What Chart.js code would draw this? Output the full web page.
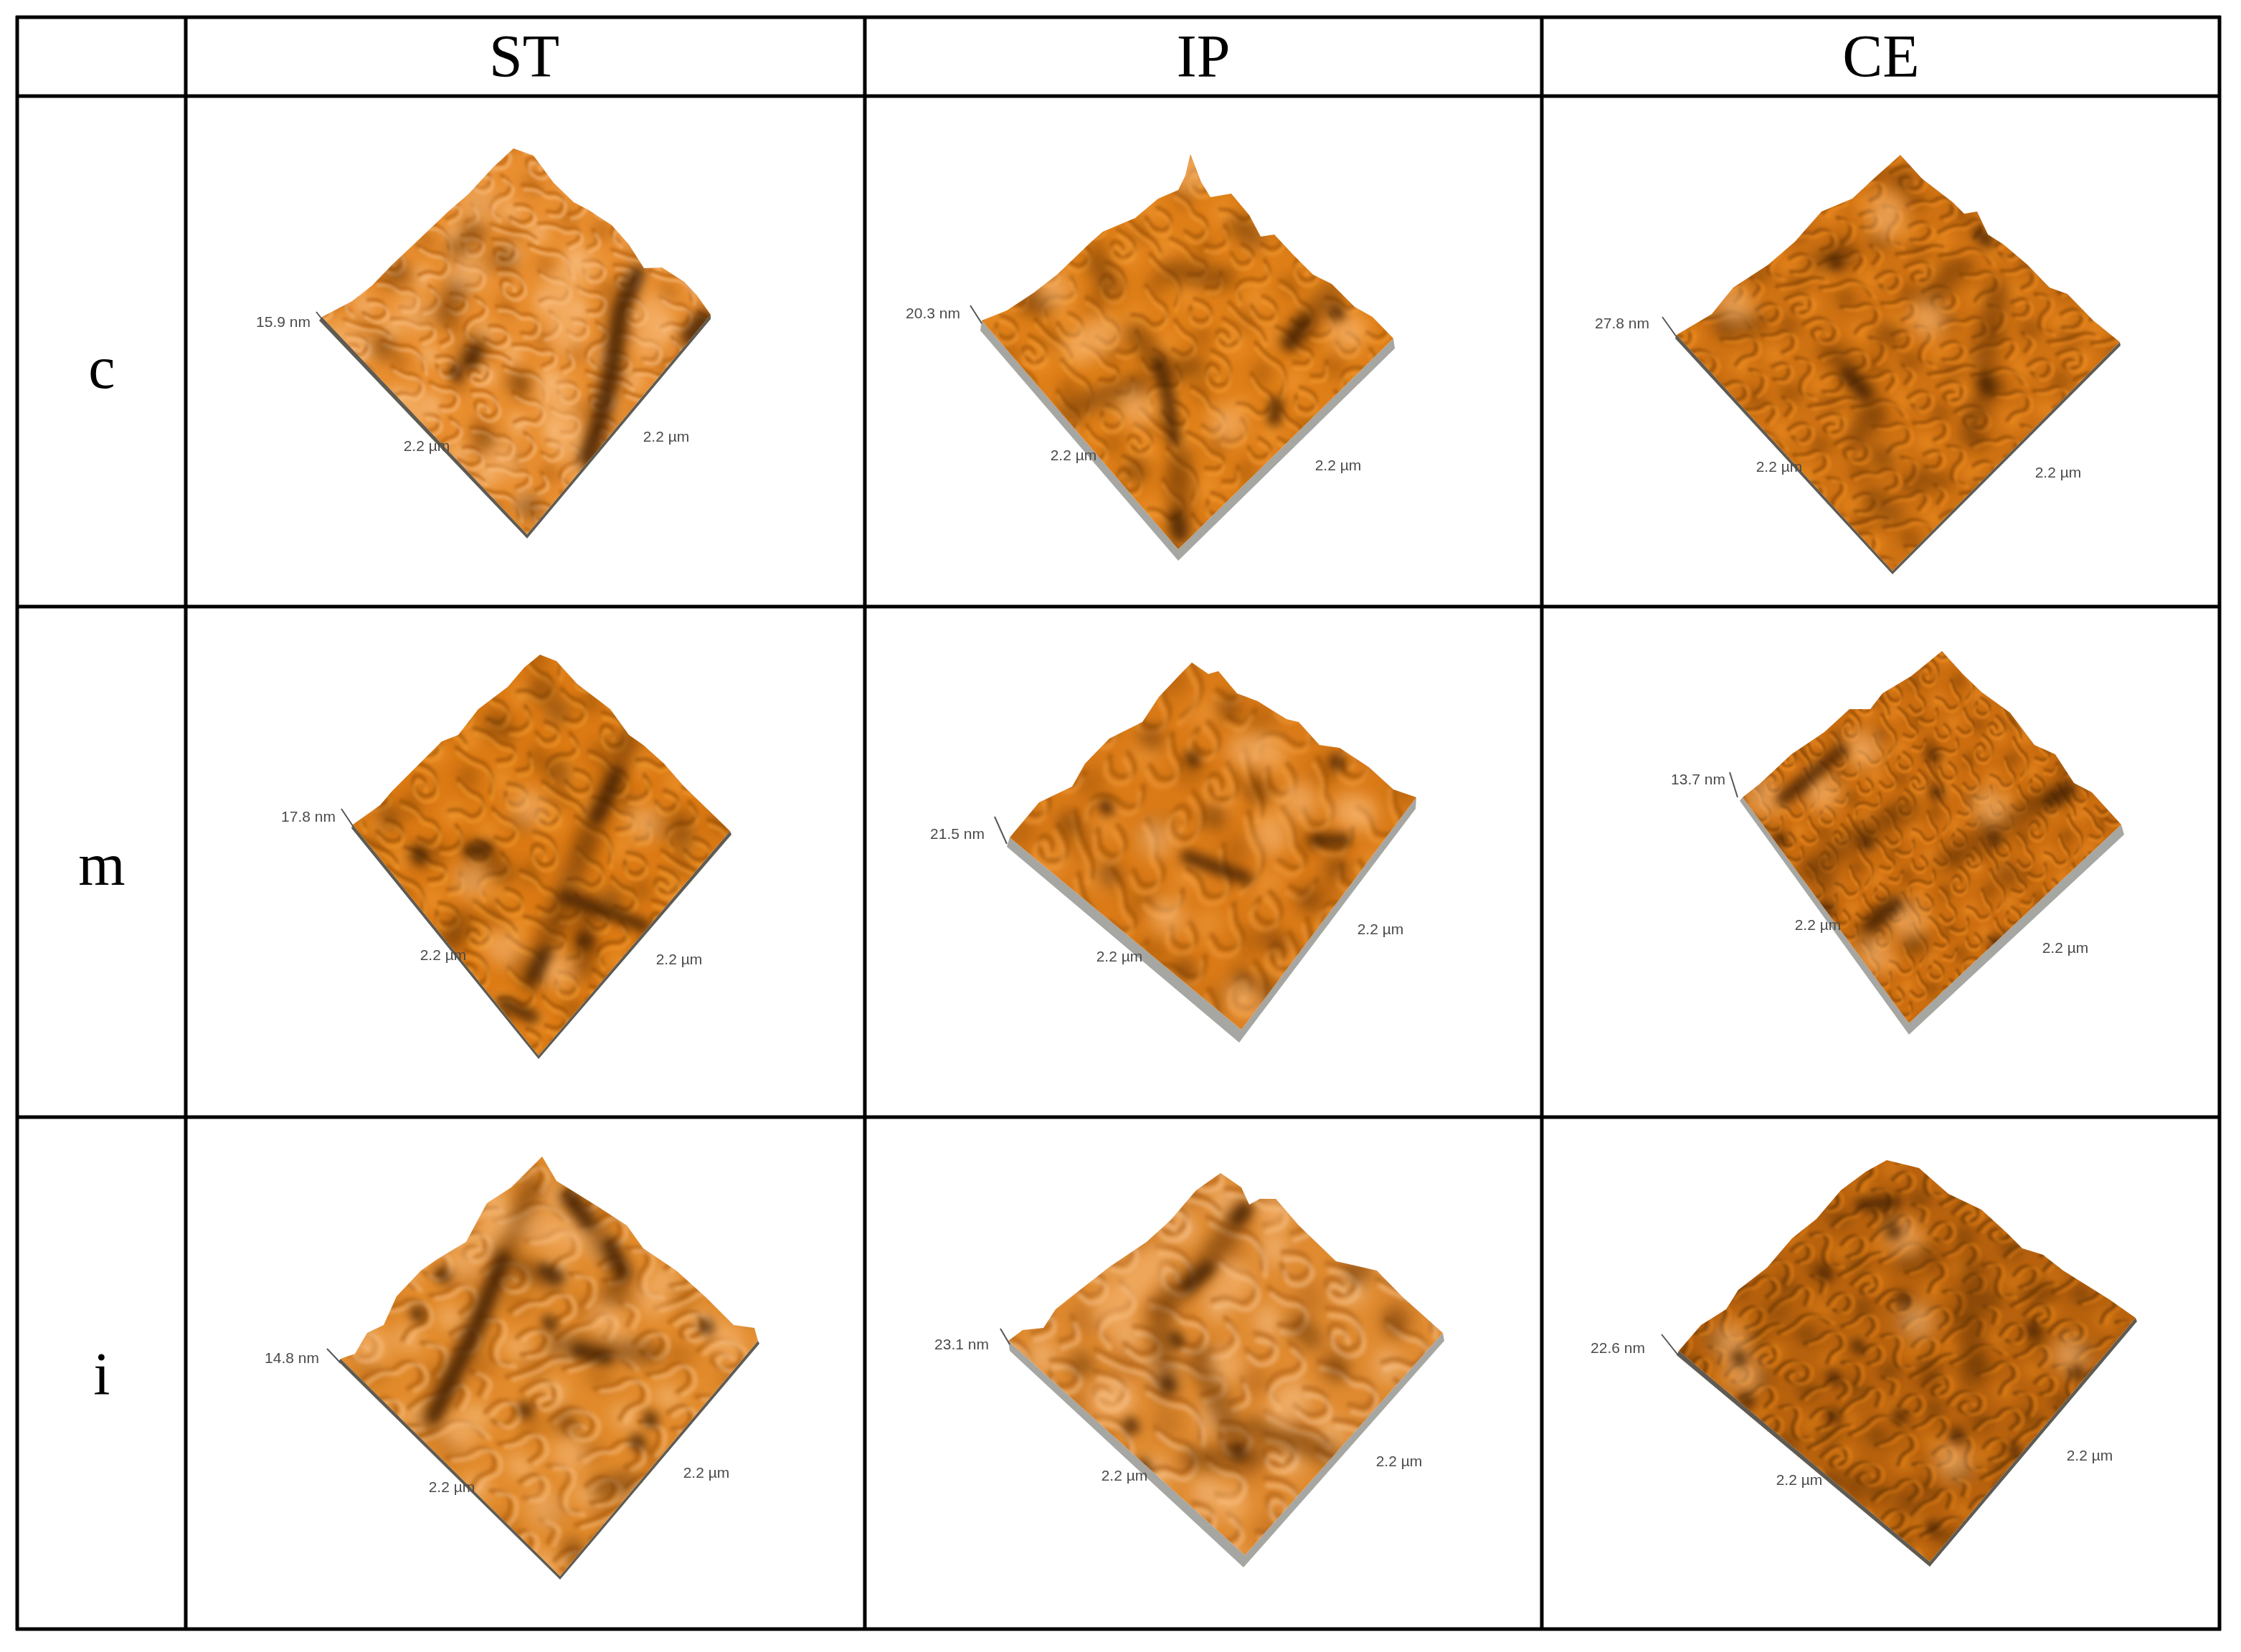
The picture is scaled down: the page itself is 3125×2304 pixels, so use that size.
<!DOCTYPE html>
<html><head><meta charset="utf-8">
<style>html,body{margin:0;padding:0;background:#fff}canvas{display:block}</style>
<script src="https://cdn.jsdelivr.net/npm/chart.js@4"></script>
</head><body><canvas id="c" width="3125" height="2304"></canvas>
<script>
// ---- table content ----
const columns = ['ST','IP','CE'];
const columnCentres = [731,1678,2623];
const rows = ['c','m','i'];
const rowBaselines = [541,1234,1945];
const rowCentre = 142;
const headerBaseline = 107;
const tableV = [24,259,1206,2150,3095];
const tableH = [24,134,846,1558,2272];

// ---- height-scale annotations (row by row) ----
const heightLabels = ['15.9 nm','20.3 nm','27.8 nm','17.8 nm','21.5 nm','13.7 nm','14.8 nm','23.1 nm','22.6 nm'];
const heightAnchors = [[395,450],[1301,438],[2262,452],[430,1140],[1335,1164],[2368,1088],[407,1895],[1341,1876],[2256,1881]];
const sideLabel = '2.2 µm';
const sideAnchorsA = [[595,623],[1497,636],[2481,652],[618,1333],[1561,1335],[2535,1291],[630,2075],[1568,2059],[2509,2065]];
const sideAnchorsB = [[929,610],[1866,650],[2870,660],[947,1339],[1925,1297],[2880,1323],[985,2055],[1951,2039],[2914,2031]];

// ---- surface outlines, one per scan ----
const outline_c_ST = [716,207,744,217,772,255,800,282,821,293,853,314,877,341,898,374,923,373,954,393,972,412,991,439,735,745,449,442,491,420,519,398,547,369,582,336,625,295,653,271,688,233];
const outline_c_IP = [1660,215,1675,254,1688,275,1717,270,1742,300,1758,330,1777,327,1803,355,1831,383,1857,396,1889,428,1914,442,1943,472,1643,766,1369,447,1404,433,1442,408,1474,383,1522,337,1538,323,1583,304,1615,277,1643,265,1653,245];
const outline_c_CE = [2650,216,2680,249,2723,282,2739,298,2757,295,2772,327,2794,341,2827,369,2858,401,2883,410,2919,447,2956,477,2639,796,2338,467,2387,438,2417,401,2466,369,2503,337,2540,295,2583,277,2613,249];
const outline_m_ST = [753,913,776,922,805,954,851,989,877,1025,897,1039,926,1065,954,1097,986,1128,1018,1159,751,1472,492,1150,530,1123,547,1103,616,1034,639,1025,667,989,708,958,731,931];
const outline_m_IP = [1662,924,1685,940,1699,936,1725,967,1754,978,1794,1003,1811,1007,1840,1039,1868,1043,1909,1070,1943,1101,1975,1112,1731,1436,1408,1168,1449,1119,1495,1097,1513,1065,1547,1030,1593,1007,1616,972,1650,936];
const outline_m_CE = [2708,908,2737,940,2763,965,2803,994,2837,1039,2866,1052,2892,1092,2917,1105,2958,1150,2662,1427,2430,1112,2453,1094,2498,1052,2544,1021,2579,989,2608,989,2625,967,2665,943];
const outline_i_ST = [756,1613,776,1647,805,1665,834,1683,874,1709,897,1741,943,1772,983,1808,1023,1848,1052,1852,1057,1870,781,2198,475,1895,495,1888,512,1859,535,1848,553,1808,587,1772,610,1756,650,1732,679,1678,713,1656];
const outline_i_IP = [1702,1636,1731,1656,1742,1680,1757,1672,1779,1672,1811,1709,1863,1759,1920,1772,1955,1808,2012,1859,1736,2169,1406,1870,1426,1855,1455,1852,1472,1826,1501,1803,1547,1767,1599,1732,1633,1701,1668,1660];
const outline_i_CE = [2631,1618,2676,1629,2717,1665,2763,1687,2797,1718,2820,1741,2849,1750,2877,1772,2941,1812,2978,1838,2691,2178,2341,1884,2372,1848,2407,1826,2424,1799,2464,1768,2499,1727,2533,1700,2567,1660,2602,1634];

// ---- side walls: left, bottom and right corners of the base, plus upper corners ----
const walls = [
 [449,442,735,745,991,439, 991,445,735,751,445,447],
 [1369,447,1643,766,1943,472, 1945,486,1643,782,1367,461],
 [2338,467,2639,796,2956,477, 2957,482,2639,801,2336,472],
 [492,1150,751,1472,1018,1159, 1020,1164,751,1477,490,1155],
 [1408,1168,1731,1436,1975,1112, 1974,1128,1728,1454,1404,1181],
 [2430,1112,2662,1427,2958,1150, 2962,1164,2662,1443,2426,1117],
 [475,1895,781,2198,1057,1870, 1059,1874,781,2203,472,1899],
 [1406,1870,1736,2169,2012,1859, 2014,1870,1734,2186,1408,1884],
 [2341,1884,2691,2178,2978,1838, 2980,1843,2691,2185,2338,1890]
];
// ---- little z-axis ticks ----
const zTicks = [[441,435,453,450],[1353,426,1369,451],[2318,442,2338,470],[476,1128,492,1152],[1387,1139,1404,1177],[2412,1077,2423,1112],[456,1881,475,1901],[1395,1853,1408,1875],[2317,1861,2340,1890]];

// ---- dark grooves and pits (deep), broad shading (shade), bright patches (glow) ----
const deep_c_ST = [[890,380,866,430,853,520,835,591,818,640],[635,518],[663,490,655,505],[962,470,982,444]];
const shade_c_ST = [[877,396,863,434,853,520,835,591,818,640],[982,444,961,472],[660,320],[639,347],[702,358],[554,379],[533,482],[723,531],[674,612],[737,705],[640,400,620,440],[650,500,665,480]];
const glow_c_ST = [[575,434],[807,369],[667,282],[772,542,793,623],[912,434,905,477],[477,472],[575,569],[653,374],[700,640],[790,470,780,400]];

const deep_c_IP = [[1615,506,1627,543,1637,612],[1777,585,1780,562],[1799,479,1819,447],[1863,433],[1640,720,1645,745]];
const shade_c_IP = [[1583,465,1615,506],[1512,562,1583,539],[1532,369,1548,401],[1455,424,1436,424],[1646,635,1646,745],[1634,378,1697,387],[1729,314,1748,332],[1799,474,1857,410],[1583,653],[1493,571],[1625,520,1665,510]];
const glow_c_IP = [[1538,465,1506,483],[1468,401],[1876,461],[1583,566],[1710,589],[1660,225,1660,245]];

const deep_c_CE = [[2601,548,2576,520],[2558,362],[2772,337,2760,325],[2772,543,2768,530]];
const shade_c_CE = [[2785,405,2766,497,2772,543],[2748,607,2760,566],[2564,497,2613,571,2589,612],[2613,695,2638,718],[2625,635],[2680,667],[2576,355,2540,364],[2693,415,2723,378],[2405,447,2448,451],[2632,465],[2650,249]];
const glow_c_CE = [[2687,442],[2417,424],[2631,291,2631,310]];

const deep_m_ST = [[860,1079,845,1114,831,1141],[656,1186,679,1184],[788,1251,868,1280,897,1291],[742,1364,759,1329],[814,1309],[702,1400,742,1418],[584,1190]];
const shade_m_ST = [[877,1030,811,1190,788,1248,742,1369],[819,1262,811,1351],[584,1190],[753,958],[776,989],[776,1074],[690,1007],[662,1186,702,1217],[644,1284,633,1306],[949,1146,952,1172],[541,1137],[851,1253]];
const glow_m_ST = [[656,1226],[897,1146],[736,1123],[776,1351],[702,1320]];

const deep_m_IP = [[1656,1195,1736,1224],[1834,1172,1874,1172],[1662,1056],[1863,1061],[1541,1123]];
const shade_m_IP = [[1691,1137],[1754,1101],[1547,1217],[1777,1311],[1650,1351],[1731,1364],[1765,1378],[1490,1146],[1863,1208],[1823,1253],[1713,985],[1604,1025]];
const glow_m_IP = [[1880,1130,1895,1135],[1736,1047,1765,1047],[1771,1164],[1627,1275],[1811,1114],[1731,1391],[1610,1168]];

const deep_m_CE = [[2567,1047,2487,1114],[2608,1289,2642,1262],[2780,1168],[2694,1052],[2699,1103],[2602,1172],[2783,1313],[2883,1101,2857,1117],[2547,1266],[2481,1168]];
const shade_m_CE = [[2886,1097,2786,1155,2717,1199],[2659,1128,2521,1213],[2642,1262,2602,1302],[2797,1217],[2671,1311],[2544,1226]];
const glow_m_CE = [[2596,1043],[2774,1123],[2659,1280],[2539,1101],[2613,1329],[2458,1110]];

const deep_i_ST = [[799,1674],[868,1776,851,1736],[794,1669,820,1705],[759,1772,776,1781],[731,1964],[805,1884,845,1893],[765,1843],[983,1848],[616,1776],[581,1830],[888,2009],[906,1977],[702,1754,667,1843,627,1928,605,1975]];
const shade_i_ST = [[702,1754,667,1843,627,1928,599,1984],[742,1656,702,1750],[702,1759,771,1785],[794,1669,868,1776,851,1812],[776,1875,908,1888],[840,2076,874,2067],[799,2160],[788,1982]];
const glow_i_ST = [[748,1714,799,1723],[639,1995],[690,1700],[644,1759],[845,1839],[908,1808],[518,1875],[759,2102],[794,2026],[1012,1866]];

const deep_i_IP = [[1736,1687,1725,1700],[1685,1768,1656,1794],[1725,2022],[1627,1928],[1639,1866],[1576,1986],[1593,2044]];
const shade_i_IP = [[1731,1692,1685,1759,1616,1830,1627,1937],[1673,1893,1719,2004],[1811,1848,1828,1866],[1943,1843],[1863,1906],[1662,2035,1748,2031],[1748,1991,1851,2026],[1507,1901],[1891,1772]];
const glow_i_IP = [[1610,1759,1547,1830],[1708,1901],[1541,1951],[1777,1687],[1788,1964],[1719,1781],[1713,2093]];

const deep_i_CE = [[2596,1680,2642,1676],[2639,1714],[2424,1892],[2435,1951],[2556,1973],[2648,1973],[2834,1852],[2895,1913],[2653,1810],[2556,1919],[2694,2129],[2808,2020],[2728,1999],[2590,1875],[2544,1774]];
const shade_i_CE = [[2751,1768,2751,1919],[2476,1830],[2688,1919],[2659,2093],[2585,2071],[2688,1750],[2849,1799]];
const glow_i_CE = [[2671,1839],[2412,1870],[2886,1888],[2722,2035],[2653,1723],[2430,1915]];

// worm-like contours of the fine surface texture (one repeating tile), and its blotches
const contours = [
 [10,20,30,10,52,22,46,44,24,50,14,36],[70,14,96,8,118,22,110,46,86,50,74,36,88,28,98,34],
 [140,10,170,16,196,8,222,24,232,50],[8,70,28,78,50,70,66,84,60,108,38,112],
 [90,70,114,62,138,74,150,98,132,116,108,108,100,88,118,84,126,96],[170,56,194,66,218,60,236,78,226,104,200,100,184,112],
 [12,134,36,128,44,150,26,166,8,158],[60,130,84,138,80,162,58,172,48,196,70,210],
 [104,140,128,134,150,148,170,140,190,152,186,178,162,180],[208,128,232,140,222,168,204,176],
 [98,180,122,172,140,196,118,214,94,206],[150,206,176,198,200,208,226,196,236,218,214,234],
 [16,196,34,214,12,232],[60,226,92,232,130,226,150,236]
];
const darkBlotches = [[60,60],[180,40],[120,130],[30,190],[200,180],[100,225]];
const lightBlotches = [[110,30],[20,110],[190,110],[90,190],[150,220],[235,15]];

// ---- look of each scan: base, contour dark, contour light, tile angle, tile scale ----
const looks = [
 ['#E98F30','#B4600E','#F9C083',12,0.72],
 ['#DF7F18','#A25508','#F39A34',40,0.80],
 ['#CF7213','#864505','#EE8D22',-15,0.72],
 ['#DC7A14','#985007','#F09A32',30,0.80],
 ['#DB7B18','#A25508','#F09B3C',70,1.05],
 ['#CC6E10','#864505','#EC8C24',55,0.55],
 ['#E28B2C','#AE5E0F','#F6BC7C',-25,0.95],
 ['#E08B30','#B0621A','#F6C18A',20,1.05],
 ['#B8620E','#6A3805','#E08018',-35,0.72]
];

const outlines = [outline_c_ST,outline_c_IP,outline_c_CE,outline_m_ST,outline_m_IP,outline_m_CE,outline_i_ST,outline_i_IP,outline_i_CE];
const deeps = [deep_c_ST,deep_c_IP,deep_c_CE,deep_m_ST,deep_m_IP,deep_m_CE,deep_i_ST,deep_i_IP,deep_i_CE];
const shades = [shade_c_ST,shade_c_IP,shade_c_CE,shade_m_ST,shade_m_IP,shade_m_CE,shade_i_ST,shade_i_IP,shade_i_CE];
const glows = [glow_c_ST,glow_c_IP,glow_c_CE,glow_m_ST,glow_m_IP,glow_m_CE,glow_i_ST,glow_i_IP,glow_i_CE];

// ---- helpers ----
const flatPts = a => { const o=[]; for(let i=0;i<a.length;i+=2) o.push({x:a[i],y:a[i+1]}); return o; };
const closed = a => { const p=flatPts(a); p.push(p[0]); return p; };
const strokes = list => { const o=[]; list.forEach(s=>{ const a = s.length===2 ? [s[0],s[1],s[0]+3,s[1]+5] : s; o.push(...flatPts(a),{x:null,y:null}); }); return o; };
function makeTile(look){
  const T=240, c=document.createElement('canvas'); c.width=c.height=T;
  const g=c.getContext('2d'); g.fillStyle=look[0]; g.fillRect(0,0,T,T);
  g.lineCap='round'; g.lineJoin='round';
  const shifts=[-T,0,T];
  const blobs=(list,col,alpha)=>{ g.filter='blur(11px)'; g.strokeStyle=col; g.globalAlpha=alpha; g.lineWidth=34;
    shifts.forEach(dx=>shifts.forEach(dy=>list.forEach(b=>{ g.beginPath(); g.moveTo(b[0]+dx,b[1]+dy); g.lineTo(b[0]+dx+6,b[1]+dy+9); g.stroke(); }))); };
  blobs(darkBlotches,look[1],0.55); blobs(lightBlotches,look[2],0.6);
  const pass=(col,alpha,ox,oy,w)=>{ g.strokeStyle=col; g.globalAlpha=alpha; g.lineWidth=w; g.filter='blur(2.6px)';
    shifts.forEach(dx=>shifts.forEach(dy=>contours.forEach(s=>{ g.beginPath(); g.moveTo(s[0]+ox+dx,s[1]+oy+dy);
      for(let i=2;i<s.length-2;i+=2){ g.quadraticCurveTo(s[i]+ox+dx,s[i+1]+oy+dy,(s[i]+s[i+2])/2+ox+dx,(s[i+1]+s[i+3])/2+oy+dy); }
      g.lineTo(s[s.length-2]+ox+dx,s[s.length-1]+oy+dy); g.stroke(); }))); };
  pass(look[1],0.62,0,0,7); pass(look[2],0.55,7,8,7);
  g.globalAlpha=1; g.filter='none';
  const p=document.createElement('canvas').getContext('2d').createPattern(c,'repeat');
  p.setTransform(new DOMMatrix().rotateSelf(look[3]).scaleSelf(look[4]));
  return p;
}
const line = (extra) => Object.assign({type:'line',pointRadius:0,pointHoverRadius:0,tension:0,spanGaps:false,fill:false,borderWidth:0,backgroundColor:'transparent',borderColor:'transparent'},extra);

// ---- datasets, in painting order ----
const ds=[];
outlines.forEach((o,i)=>{
  ds.push(line({data:closed(walls[i]),fill:'shape',backgroundColor:[1,4,5,7].includes(i)?'#A6A6A2':'#5F5B52'}));
  ds.push(line({data:closed(o),fill:'shape',backgroundColor:makeTile(looks[i])}));
  ds.push(line({data:strokes(shades[i]),borderColor:'rgba(104,52,4,0.55)',borderWidth:32,borderCapStyle:'round',borderJoinStyle:'round',surface:o,soft:10}));
  ds.push(line({data:strokes(glows[i]),borderColor:'rgba(250,190,125,0.58)',borderWidth:48,borderCapStyle:'round',borderJoinStyle:'round',surface:o,soft:12}));
  ds.push(line({data:strokes(deeps[i]),borderColor:'rgba(66,32,2,0.78)',borderWidth:20,borderCapStyle:'round',borderJoinStyle:'round',surface:o,soft:7}));
  ds.push(line({data:flatPts(zTicks[i]),borderColor:'#555',borderWidth:2}));
});
const gridPts=[];
tableV.forEach(x=>gridPts.push({x,y:tableH[0]-2},{x,y:tableH[tableH.length-1]+2},{x:null,y:null}));
tableH.forEach(y=>gridPts.push({x:tableV[0]-2,y},{x:tableV[tableV.length-1]+2,y},{x:null,y:null}));
ds.push(line({data:gridPts,borderColor:'#000',borderWidth:5}));
ds.reverse(); // Chart.js paints the last dataset first

const softMarks={id:'softMarks',
 beforeDatasetDraw(chart,args){ const d=chart.data.datasets[args.index]; if(!d.surface) return;
   const c=chart.ctx,X=chart.scales.x,Y=chart.scales.y; c.save(); c.beginPath();
   for(let i=0;i<d.surface.length;i+=2){ const a=X.getPixelForValue(d.surface[i]),b=Y.getPixelForValue(d.surface[i+1]); i?c.lineTo(a,b):c.moveTo(a,b);} c.closePath(); c.clip(); c.filter='blur('+d.soft+'px)'; },
 afterDatasetDraw(chart,args){ if(chart.data.datasets[args.index].surface) chart.ctx.restore(); }
};
const tableText={id:'tableText',
 afterDatasetsDraw(chart){ const c=chart.ctx,X=chart.scales.x,Y=chart.scales.y;
   const put=(t,x,y)=>c.fillText(t,X.getPixelForValue(x),Y.getPixelForValue(y));
   c.save(); c.fillStyle='#000'; c.textAlign='center'; c.textBaseline='alphabetic'; c.font='84px "Liberation Serif"';
   columns.forEach((t,i)=>put(t,columnCentres[i],headerBaseline));
   rows.forEach((t,i)=>put(t,rowCentre,rowBaselines[i]));
   c.textBaseline='middle'; c.font='21px "Liberation Sans"'; c.fillStyle='#4a4a4a';
   heightLabels.forEach((t,i)=>put(t,heightAnchors[i][0],heightAnchors[i][1]));
   sideAnchorsA.forEach(a=>put(sideLabel,a[0],a[1]));
   sideAnchorsB.forEach(a=>put(sideLabel,a[0],a[1]));
   c.restore(); }
};
new Chart(document.getElementById('c'),{
  type:'line',
  data:{datasets:ds},
  options:{responsive:false,animation:false,events:[],parsing:true,
    layout:{padding:0},
    plugins:{legend:{display:false},tooltip:{enabled:false},title:{display:false}},
    scales:{x:{type:'linear',display:false,min:0,max:3125},y:{type:'linear',display:false,min:0,max:2304,reverse:true}}},
  plugins:[softMarks,tableText]
});
</script></body></html>
